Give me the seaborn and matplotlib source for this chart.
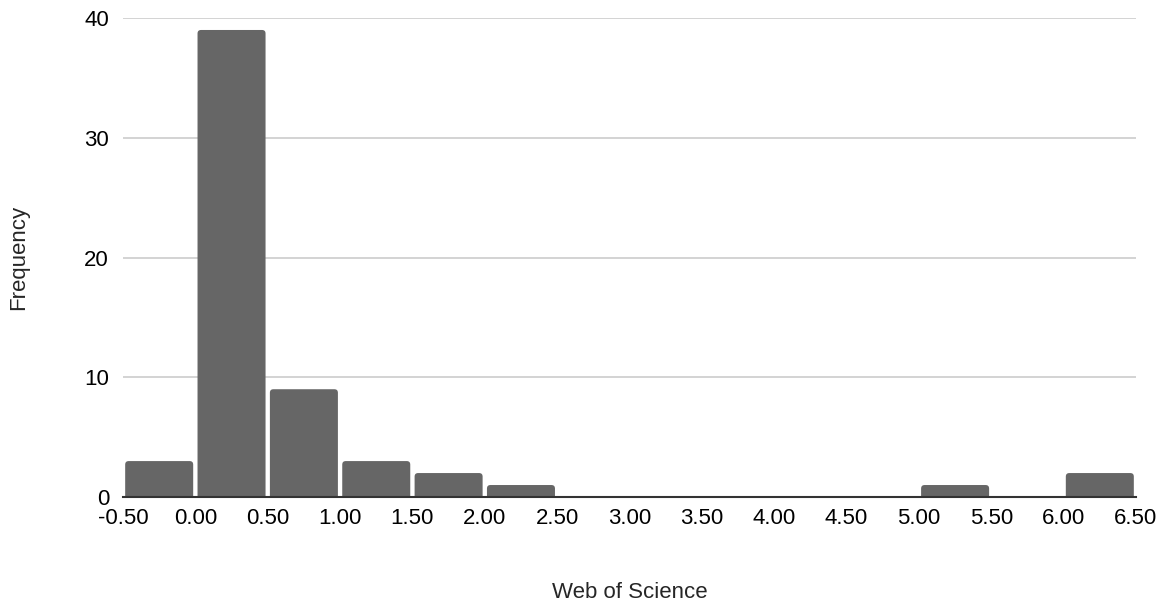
import numpy as np
import pandas as pd
import seaborn as sns
import matplotlib
matplotlib.use("Agg")
import matplotlib.pyplot as plt
from matplotlib.patches import FancyBboxPatch

bin_edges = [-0.5, 0.0, 0.5, 1.0, 1.5, 2.0, 2.5, 3.0, 3.5, 4.0, 4.5, 5.0, 5.5, 6.0, 6.5]
bin_centers = [-0.25, 0.25, 0.75, 1.25, 1.75, 2.25, 2.75, 3.25, 3.75, 4.25, 4.75, 5.25, 5.75, 6.25]
counts = [3, 39, 9, 3, 2, 1, 0, 0, 0, 0, 0, 1, 0, 2]
x_ticks = [-0.5, 0.0, 0.5, 1.0, 1.5, 2.0, 2.5, 3.0, 3.5, 4.0, 4.5, 5.0, 5.5, 6.0, 6.5]
x_tick_labels = ["-0.50", "0.00", "0.50", "1.00", "1.50", "2.00", "2.50", "3.00",
                 "3.50", "4.00", "4.50", "5.00", "5.50", "6.00", "6.50"]
y_ticks = [0, 10, 20, 30, 40]
x_label = "Web of Science"
y_label = "Frequency"

sns.set_style("white")
plt.rcParams['font.family'] = ['Liberation Sans', 'DejaVu Sans']

df = pd.DataFrame({"x": bin_centers, "w": counts})

fig = plt.figure(figsize=(11.72, 6.02), dpi=100)
ax = fig.add_axes([123 / 1172, 105 / 602, (1136 - 123) / 1172, (497 - 18) / 602])

sns.histplot(data=df, x="x", weights="w", bins=bin_edges, shrink=0.94,
             color="#666666", alpha=1, edgecolor="none", linewidth=0, ax=ax, zorder=3)

ax.set_xlim(-0.5, 6.5)
ax.set_ylim(0, 40)

# round the top corners of the bars produced by seaborn
x_per_px = 7.0 / 1013
y_per_px = 40.0 / 479
for p in list(ax.patches):
    x0, y0 = p.get_x(), p.get_y()
    w, h = p.get_width(), p.get_height()
    if h <= 0:
        p.remove()
        continue
    fb = FancyBboxPatch((x0, y0 - 0.6), w, h + 0.6,
                        boxstyle="round,pad=0,rounding_size=%f" % (3.5 * x_per_px),
                        mutation_aspect=y_per_px / x_per_px,
                        facecolor="#666666", edgecolor="none", linewidth=0, zorder=3)
    fb.set_clip_path(ax.patch)
    p.remove()
    ax.add_patch(fb)

ax.set_xticks(x_ticks)
ax.set_xticklabels(x_tick_labels)
ax.set_yticks(y_ticks)
ax.yaxis.grid(True, color="#cccccc", linewidth=1.2, zorder=0)
ax.xaxis.grid(False)
for s in ["top", "right", "left"]:
    ax.spines[s].set_visible(False)
ax.spines["bottom"].set_color("#333333")
ax.spines["bottom"].set_linewidth(1.5)
ax.spines["bottom"].set_zorder(4)
ax.tick_params(axis="both", length=0, labelsize=16, colors="#000000")
ax.tick_params(axis="x", pad=8)
ax.tick_params(axis="y", pad=10)
ax.set_xlabel(x_label, fontsize=16, labelpad=38)
ax.set_ylabel(y_label, fontsize=16, labelpad=40)
ax.set_axisbelow(True)

fig.savefig("out.png", dpi=100)
